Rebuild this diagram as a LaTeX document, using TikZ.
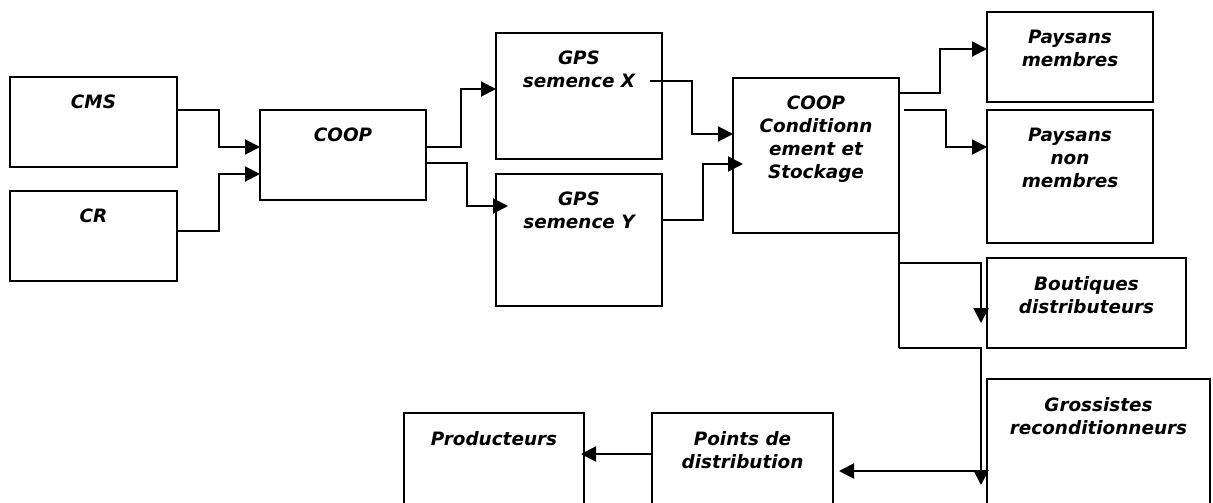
\documentclass[tikz,border=0pt]{standalone}
\usepackage{fontspec}
\setmainfont{DejaVu Sans}
\usepackage{tikz}
\usetikzlibrary{arrows.meta}
\tikzset{>={Triangle[length=15pt,width=15pt]}}
\tikzset{
    boite/.style={draw, line width=2pt, inner sep=0pt, outer sep=0pt},
    etiquette/.style={anchor=north, align=center, yshift=-14pt,
        font=\fontsize{18.4}{22.7}\selectfont\bfseries\itshape}
}
\newcommand{\boite}[6]{
    \node[boite, anchor=north west, minimum width=#4pt, minimum height=#5pt,
        label={[etiquette]north:#6}] (#1) at (#2,#3) {};
}

\begin{document}
\begin{tikzpicture}[x=1pt,y=-1pt,line width=2pt]
            \useasboundingbox (0,0) rectangle (1213,503);
            \clip (0,0) rectangle (1213,503);
            \boite{cms}{10}{77}{167}{90}{CMS}
            \boite{cr}{10}{191}{167}{90}{CR}
            \boite{coop}{260}{110}{166}{90}{COOP}
            \boite{gpsx}{496}{33}{166}{126}{GPS\\semence X}
            \boite{gpsy}{496}{174}{166}{132}{GPS\\semence Y}
            \boite{coopcs}{733}{78}{166}{155}{COOP\\Conditionn\\ement et\\Stockage}
            \boite{pm}{987}{12}{166}{90}{Paysans\\membres}
            \boite{pnm}{987}{110}{166}{133}{Paysans\\non\\membres}
            \boite{bout}{987}{258}{199}{90}{Boutiques\\distributeurs}
            \boite{gross}{987}{379}{223}{140}{Grossistes\\reconditionneurs}
            \boite{pts}{652}{413}{181}{110}{Points de\\distribution}
            \boite{prod}{404}{413}{180}{110}{Producteurs}
            \coordinate (b1) at (981,323);
            \coordinate (g1) at (981,485);
            \draw[->] (cms.east |- 0,110) -| (219,147) -- (coop.west |- 0,147);
            \draw[->] (cr.east |- 0,231) -| (219,174) -- (coop.west |- 0,174);
            \draw[->] (coop.east |- 0,147) -| (461,89) -- (gpsx.west |- 0,89);
            \draw[->] (coop.east |- 0,163) -| (467,206) -- ([xshift=12pt]gpsy.west |- 0,206);
            \draw[->] ([xshift=-12pt]gpsx.east |- 0,81) -| (692,134) -- (coopcs.west |- 0,134);
            \draw[->] (gpsy.east |- 0,220) -| (703,164) -- ([xshift=10pt]coopcs.west |- 0,164);
            \draw[->] (coopcs.east |- 0,93) -| (940,49) -- (pm.west |- 0,49);
            \draw[->] ([xshift=5pt]coopcs.east |- 0,110) -| (946,147) -- (pnm.west |- 0,147);
            \draw (coopcs.south east) -- (coopcs.east |- 0,348);
            \draw[->] (coopcs.east |- 0,263) -| (b1);
            \draw[->] (coopcs.east |- 0,348) -| (g1);
            \draw[->] (gross.west |- 0,471) -- ([xshift=6pt]pts.east |- 0,471);
            \draw[->] (pts.west |- 0,454) -- ([xshift=-3pt]prod.east |- 0,454);
        \end{tikzpicture}
\end{document}
